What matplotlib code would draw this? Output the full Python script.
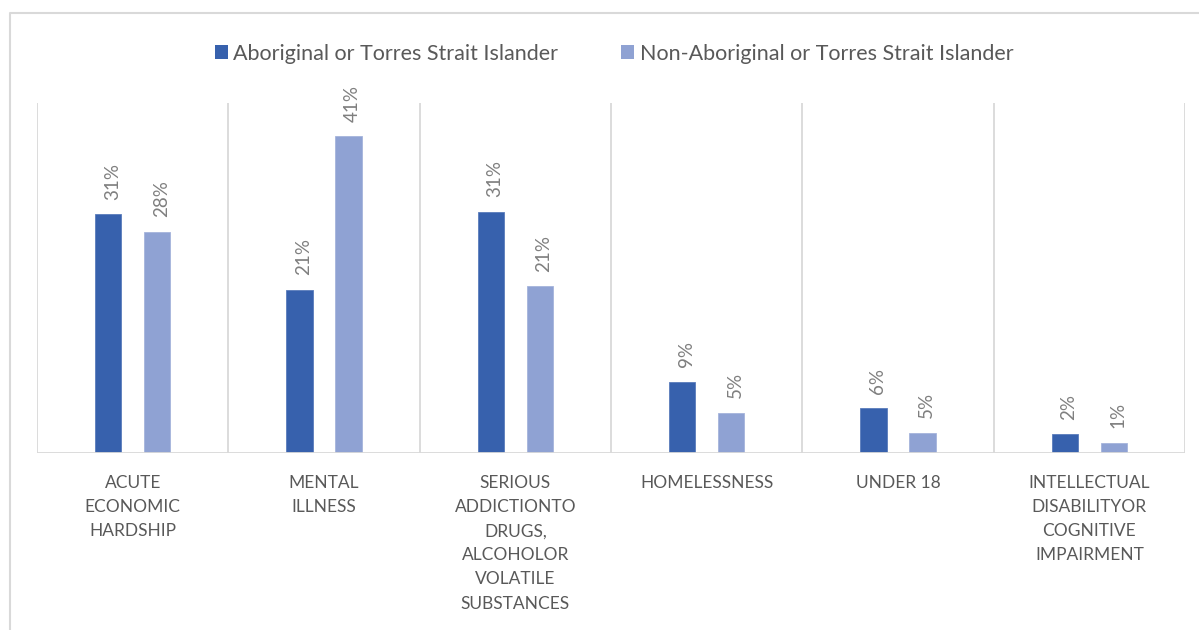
"""Bar chart: Aboriginal vs non-Aboriginal share by vulnerability category."""

import matplotlib
matplotlib.use("Agg")
import matplotlib.pyplot as plt
import numpy as np
from matplotlib.lines import Line2D
from matplotlib.patches import Patch


categories = [
    "ACUTE\nECONOMIC\nHARDSHIP",
    "MENTAL\nILLNESS",
    "SERIOUS\nADDICTIONTO\nDRUGS,\nALCOHOLOR\nVOLATILE\nSUBSTANCES",
    "HOMELESSNESS",
    "UNDER 18",
    "INTELLECTUAL\nDISABILITYOR\nCOGNITIVE\nIMPAIRMENT",
]
series_names = ["Aboriginal or Torres Strait Islander", "Non-Aboriginal or Torres Strait Islander"]
aboriginal = [30.9, 21.1, 31.2, 9.2, 5.8, 2.4]
non_aboriginal = [28.6, 41.0, 21.6, 5.2, 2.6, 1.3]
aboriginal_labels = ["31%", "21%", "31%", "9%", "6%", "2%"]
non_aboriginal_labels = ["28%", "41%", "21%", "5%", "5%", "1%"]

DARK = "#3761AD"
LIGHT = "#8FA2D3"
GRID = "#D9D9D9"
TEXT = "#595959"
LABEL = "#7F7F7F"

plt.rcParams["font.family"] = ["Lato", "DejaVu Sans"]

W, H = 1199, 630
fig = plt.figure(figsize=(W / 100, H / 100), dpi=100)
ax = fig.add_axes([37 / W, 1 - 453 / H, (1185 - 37) / W, (453 - 103) / H])

x = np.arange(len(categories))
off = 0.128
width = 0.136
ax.bar(x - off, aboriginal, width, color=DARK, edgecolor="#5A7CBB", linewidth=0.6, zorder=3)
ax.bar(x + off, non_aboriginal, width, color=LIGHT, edgecolor="#A5B4DC", linewidth=0.6, zorder=3)

for xs, vals, labs in [(x - off, aboriginal, aboriginal_labels), (x + off, non_aboriginal, non_aboriginal_labels)]:
    for xi, v, lab in zip(xs, vals, labs):
        ax.annotate(lab, (xi, v), xytext=(3, 10.5), textcoords="offset points",
                    rotation=90, ha="center", va="bottom", fontsize=13.5, color=LABEL)

ax.set_xlim(-0.5, len(categories) - 0.5)
ax.set_ylim(0, 45.3)
for b in np.arange(-0.5, len(categories), 1.0):
    ax.axvline(b, color=GRID, linewidth=1.3, zorder=1)
ax.axhline(0, color=GRID, linewidth=1.3, zorder=4)

for s in ax.spines.values():
    s.set_visible(False)
ax.set_yticks([])
ax.set_xticks(x)
ax.set_xticklabels(categories, fontsize=12.5, color=TEXT, linespacing=1.62)
ax.tick_params(axis="x", length=0, pad=16)

handles = [Patch(facecolor=DARK), Patch(facecolor=LIGHT)]
fig.legend(handles, series_names, loc="center", bbox_to_anchor=(614 / W, 1 - 54 / H),
           ncol=2, frameon=False, fontsize=15.5, labelcolor=TEXT,
           handlelength=0.62, handleheight=0.62, handletextpad=0.25, columnspacing=2.9)

# outer chart border (left and top edges visible)
fig.add_artist(Line2D([10 / W, 10 / W, 1.0], [0.0, 1 - 12.5 / H, 1 - 12.5 / H],
                      transform=fig.transFigure, color=GRID, linewidth=1.5))

fig.savefig("out.png", dpi=100)
